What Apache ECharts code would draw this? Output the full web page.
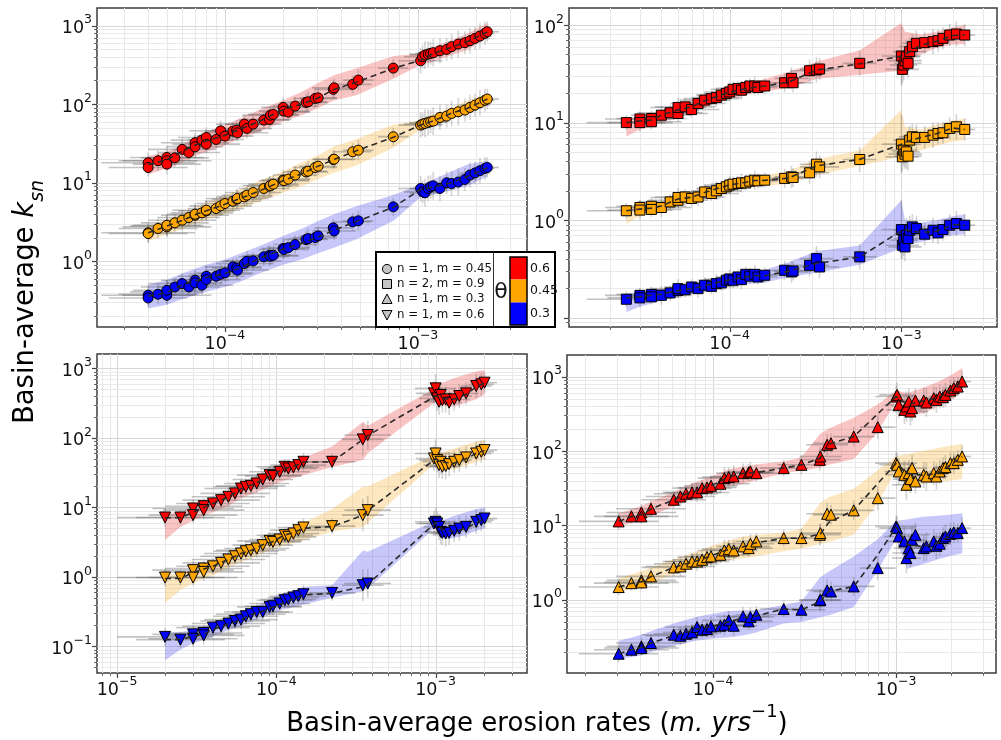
<!DOCTYPE html>
<html><head><meta charset="utf-8">
<script src="https://cdn.jsdelivr.net/npm/echarts@6/dist/echarts.min.js"></script>
<style>html,body{margin:0;padding:0;background:#fff}#c{width:1001px;height:740px}</style>
</head><body><div id="c"></div>
<script>
// ---------------- Panel 1 (circles: n = 1, m = 0.45) ----------------
const p1X = [4.0e-5,4.0e-5,4.5e-5,5.0e-5,5.0e-5,5.0e-5,5.5e-5,6.0e-5,6.5e-5,7.0e-5,7.0e-5,7.6e-5,8.0e-5,8.0e-5,9.0e-5,9.5e-5,1.0e-4,1.1e-4,1.15e-4,1.16e-4,1.26e-4,1.3e-4,1.4e-4,1.59e-4,1.7e-4,1.72e-4,1.78e-4,2.0e-4,2.02e-4,2.13e-4,2.31e-4,2.63e-4,2.7e-4,2.93e-4,3.04e-4,3.64e-4,3.68e-4,4.59e-4,4.91e-4,7.45e-4,1.032e-3,1.057e-3,1.087e-3,1.13e-3,1.163e-3,1.2e-3,1.3e-3,1.408e-3,1.494e-3,1.618e-3,1.752e-3,1.86e-3,1.974e-3,2.095e-3,2.224e-3,2.287e-3];
const p1Red = [17.9,15.6,19.0,20.9,19.0,17.2,20.7,26.5,24.2,32.2,28.6,34.8,37.6,30.9,35.5,45.7,39.1,45.3,46.6,43.1,55.6,49.0,55.6,62.5,63.8,72.4,73.9,90.7,81.4,79.1,94.3,105,107,118,120,154,161,178,202,287,356,401,421,433,442,451,478,497,538,581,604,641,686,735,795,834];
const p1Orange = [2.30,2.25,2.61,2.82,2.74,2.87,3.08,3.33,3.60,3.85,3.97,4.13,4.38,4.46,4.69,5.07,5.43,5.81,6.16,6.28,6.60,6.93,7.49,8.43,9.03,9.20,9.57,10.8,10.6,11.1,12.5,13.7,14.0,15.6,16.2,19.7,19.9,24.7,25.9,38.4,54.0,55.6,56.7,58.4,59.6,60.7,67.6,70.3,76.0,79.9,83.9,90.7,97.1,104,112,116];
const p1Blue = [0.369,0.341,0.380,0.407,0.369,0.427,0.471,0.519,0.471,0.573,0.530,0.495,0.644,0.584,0.644,0.683,0.710,0.847,0.822,0.768,0.934,1.00,1.01,1.14,1.19,1.16,1.19,1.45,1.41,1.49,1.63,1.89,1.94,2.00,2.10,2.66,2.43,3.17,3.27,4.92,8.43,7.64,7.42,8.43,8.85,9.11,8.43,9.95,9.76,10.2,11.0,12.5,13.3,14.2,15.2,15.6];
const p1XErr = [1.75,1.6,1.6,1.55,1.7,1.5,1.5,1.5,1.45,1.5,1.4,1.45,1.4,1.5,1.4,1.45,1.4,1.4,1.35,1.45,1.4,1.35,1.4,1.35,1.3,1.4,1.35,1.3,1.35,1.3,1.3,1.3,1.25,1.3,1.25,1.25,1.3,1.25,1.2,1.2,1.3,1.25,1.2,1.25,1.2,1.2,1.2,1.15,1.2,1.15,1.15,1.15,1.2,1.15,1.12,1.15];
const p1YErr = [1.35,1.3,1.35,1.4,1.3,1.35,1.3,1.35,1.3,1.35,1.4,1.3,1.35,1.3,1.3,1.35,1.3,1.3,1.35,1.3,1.3,1.35,1.3,1.3,1.35,1.3,1.3,1.35,1.3,1.3,1.3,1.3,1.35,1.3,1.3,1.3,1.3,1.3,1.35,1.3,1.45,1.4,1.5,1.45,1.4,1.5,1.45,1.4,1.45,1.5,1.4,1.45,1.4,1.45,1.4,1.35];
const p1BinX = [4.0e-5,5.0e-5,6.0e-5,7.0e-5,8.0e-5,1.0e-4,1.2e-4,1.5e-4,2.0e-4,2.5e-4,3.0e-4,3.7e-4,4.8e-4,7.5e-4,1.03e-3,1.2e-3,1.5e-3,1.8e-3,2.29e-3];
const p1RedLine = [17,19.5,25,30,34,40,48,60,85,100,118,155,190,287,360,440,530,620,830];
const p1RedLo = [12.8,15.1,17.9,21.8,24.7,30,36.5,44,60,72,88,112,130,212,314,346,421,488,687];
const p1RedHi = [21.8,24.7,30,38,44,54,66,84,112,144,183,234,285,408,442,537,653,794,1070];
const p1OrangeLine = [2.3,2.8,3.3,3.9,4.4,5.3,6.3,7.8,10.6,13,16,19.8,25.5,38,54,61,77,88,116];
const p1OrangeLo = [1.8,2.2,2.6,3.0,3.4,4.0,4.7,5.7,7.5,9,11,13.5,16.5,28,47,52,64,74,95];
const p1OrangeHi = [2.8,3.4,4.0,4.8,5.5,6.8,8.2,10.5,14,18,22,29,36,55,62,75,92,110,135];
const p1BlueLine = [0.36,0.40,0.50,0.56,0.62,0.70,0.82,1.08,1.42,1.7,2.0,2.5,3.2,4.9,8.2,8.8,10,12,15.5];
const p1BlueLo = [0.25,0.28,0.33,0.37,0.41,0.47,0.55,0.7,0.9,1.05,1.25,1.5,1.9,3.3,6.5,7.0,8.0,9,12];
const p1BlueHi = [0.5,0.58,0.7,0.8,0.9,1.05,1.25,1.55,2.1,2.6,3.2,4.0,5.0,7.0,9.5,11,14,17,19];
const p1XRange = [-4.663, -2.435];
const p1YRange = [-0.837, 3.223];
const p1XTicks = [1e-4, 1e-3];
const p1YTicks = [1, 10, 100, 1000];

// ---------------- Panel 2 (squares: n = 2, m = 0.9) ----------------
const p2X = [2.5e-5,3.0e-5,3.0e-5,3.5e-5,3.5e-5,4.0e-5,4.5e-5,5.0e-5,5.0e-5,5.5e-5,6.0e-5,6.54e-5,7.15e-5,7.82e-5,8.36e-5,8.94e-5,9.56e-5,1.0e-4,1.046e-4,1.118e-4,1.17e-4,1.24e-4,1.31e-4,1.40e-4,1.46e-4,1.60e-4,2.09e-4,2.29e-4,2.34e-4,2.92e-4,3.20e-4,3.34e-4,5.72e-4,1.0e-3,1.013e-3,1.032e-3,1.05e-3,1.069e-3,1.094e-3,1.118e-3,1.159e-3,1.223e-3,1.367e-3,1.529e-3,1.635e-3,1.748e-3,1.912e-3,2.091e-3,2.34e-3];
const p2Red = [10.0,10.9,10.0,11.0,10.2,11.9,12.6,12.4,14.3,14.5,13.6,15.7,17.0,17.6,18.1,19.1,19.9,20.6,21.9,22.4,21.5,22.9,23.7,23.7,22.9,23.7,25.6,28.4,25.6,34.0,34.6,35.4,40.5,48.1,35.1,38.9,43.1,47.3,40.5,53.3,60.0,64.9,65.9,67.5,69.1,73.0,78.9,80.8,78.9];
const p2Orange = [1.25,1.35,1.27,1.39,1.29,1.35,1.54,1.60,1.71,1.73,1.67,1.73,1.95,1.88,2.00,2.11,2.20,2.29,2.34,2.38,2.41,2.41,2.51,2.57,2.53,2.57,2.68,2.78,2.74,3.06,3.75,3.52,4.19,6.02,4.46,5.22,4.75,5.02,4.53,6.61,7.15,7.05,7.05,7.44,7.74,7.87,8.71,9.06,8.51];
const p2Blue = [0.155,0.170,0.160,0.174,0.164,0.170,0.180,0.191,0.199,0.194,0.207,0.199,0.216,0.210,0.224,0.228,0.243,0.250,0.243,0.262,0.246,0.279,0.267,0.279,0.262,0.273,0.307,0.295,0.302,0.345,0.404,0.332,0.421,0.802,0.554,0.624,0.533,0.702,0.649,0.790,0.854,0.821,0.719,0.790,0.741,0.802,0.889,0.924,0.889];
const p2XErr = [1.7,1.6,1.55,1.6,1.5,1.5,1.55,1.5,1.45,1.5,1.45,1.45,1.4,1.45,1.4,1.4,1.35,1.4,1.35,1.35,1.3,1.35,1.3,1.3,1.3,1.3,1.3,1.25,1.3,1.3,1.25,1.3,1.25,1.3,1.25,1.2,1.25,1.2,1.2,1.25,1.2,1.2,1.15,1.2,1.15,1.15,1.15,1.12,1.15];
const p2YErr = [1.2,1.2,1.25,1.2,1.2,1.25,1.2,1.2,1.25,1.2,1.2,1.25,1.2,1.2,1.25,1.2,1.2,1.25,1.2,1.2,1.25,1.2,1.2,1.25,1.2,1.2,1.25,1.3,1.25,1.3,1.35,1.3,1.35,2.0,1.4,1.45,1.4,1.5,1.4,1.4,1.35,1.35,1.3,1.35,1.3,1.3,1.3,1.35,1.3];
const p2BinX = [2.5e-5,3e-5,3.5e-5,4e-5,5e-5,6e-5,7e-5,8e-5,1e-4,1.2e-4,1.4e-4,1.6e-4,2.2e-4,3.2e-4,5.72e-4,1.0e-3,1.05e-3,1.3e-3,1.6e-3,2.0e-3,2.34e-3];
const p2RedLine = [10,10.4,10.6,11.9,13.5,14.5,16.5,18,20.5,22,23,23.7,26,34.5,40,48,50,62,68,78,79];
const p2RedLo = [7.2,8.5,9,10,11.5,12.5,14,15.5,17.5,19,20,21,22.5,28,31,34,40,50,58,63,64];
const p2RedHi = [11,11.5,12.2,13.5,15.5,17,19,20.5,23,25,26.5,28,33,42,55,105,85,80,85,95,100];
const p2OrangeLine = [1.25,1.3,1.33,1.4,1.65,1.72,1.9,2.05,2.3,2.42,2.55,2.56,2.7,3.6,4.2,6.0,6.3,7.05,7.7,8.8,8.5];
const p2OrangeLo = [0.92,1.1,1.15,1.2,1.4,1.5,1.65,1.8,2.0,2.1,2.2,2.25,2.35,2.9,3.6,4.5,4.6,5.2,5.8,6.4,6.6];
const p2OrangeHi = [1.38,1.45,1.5,1.55,1.8,1.95,2.1,2.25,2.5,2.65,2.75,2.85,3.2,4.2,5.2,13.5,9,8.5,9.5,10.5,11];
const p2BlueLine = [0.16,0.165,0.17,0.175,0.19,0.2,0.21,0.225,0.245,0.26,0.27,0.27,0.3,0.36,0.42,0.78,0.8,0.75,0.77,0.9,0.89];
const p2BlueLo = [0.115,0.13,0.14,0.15,0.165,0.175,0.185,0.195,0.21,0.22,0.225,0.23,0.26,0.29,0.35,0.52,0.55,0.6,0.65,0.7,0.72];
const p2BlueHi = [0.178,0.185,0.19,0.195,0.21,0.225,0.24,0.25,0.27,0.29,0.3,0.31,0.37,0.48,0.55,1.6,1.0,0.95,1.0,1.1,1.15];
const p2XRange = [-4.936, -2.443];
const p2YRange = [-1.094, 2.174];
const p2XTicks = [1e-4, 1e-3];
const p2YTicks = [1, 10, 100];

// ---------------- Panel 3 (down triangles: n = 1, m = 0.6) ----------------
const p3X = [2.0e-5,2.5e-5,3.0e-5,3.0e-5,3.5e-5,3.5e-5,4.0e-5,4.5e-5,5.0e-5,5.5e-5,6.0e-5,6.43e-5,6.92e-5,7.53e-5,8.22e-5,9.07e-5,9.52e-5,1.05e-4,1.13e-4,1.19e-4,1.28e-4,1.375e-4,1.48e-4,2.24e-4,3.49e-4,3.75e-4,9.76e-4,1.0e-3,1.025e-3,1.05e-3,1.076e-3,1.103e-3,1.158e-3,1.216e-3,1.309e-3,1.409e-3,1.554e-3,1.80e-3,1.937e-3,2.03e-3];
const p3Red = [7.15,7.15,9.64,7.73,10.4,9.12,11.4,12.7,14.2,15.9,18.7,19.8,20.4,22.1,25.2,29.1,28.2,32.5,38.4,36.3,37.6,40.6,45.3,45.3,95.1,110,437,516,370,331,413,350,358,321,358,400,437,557,589,623];
const p3Orange = [0.978,0.978,1.25,0.978,1.32,1.18,1.42,1.59,1.78,1.98,2.17,2.34,2.42,2.56,2.86,3.30,3.19,3.45,3.98,3.77,4.21,4.70,5.13,5.37,7.73,9.12,50.6,59.7,47.9,40.6,45.3,38.4,39.3,41.9,45.3,47.9,52.3,59.7,63.1,66.7];
const p3Blue = [0.137,0.125,0.149,0.129,0.156,0.144,0.186,0.195,0.213,0.232,0.243,0.271,0.290,0.313,0.313,0.370,0.378,0.413,0.461,0.472,0.504,0.527,0.563,0.588,0.759,0.802,5.86,6.20,5.86,5.25,4.45,4.30,4.21,4.30,4.60,4.97,5.25,6.20,6.55,6.92];
const p3XErr = [2.0,1.9,1.8,1.9,1.75,1.8,1.7,1.75,1.7,1.65,1.7,1.6,1.65,1.6,1.55,1.6,1.5,1.55,1.5,1.5,1.45,1.5,1.45,1.4,1.35,1.4,1.3,1.35,1.3,1.25,1.3,1.25,1.25,1.2,1.25,1.2,1.2,1.25,1.2,1.2];
const p3YErr = [1.35,1.3,1.35,1.3,1.3,1.35,1.3,1.3,1.35,1.3,1.35,1.3,1.3,1.35,1.3,1.3,1.35,1.3,1.3,1.35,1.3,1.3,1.35,1.3,1.7,1.6,1.5,1.6,1.5,1.55,1.5,1.5,1.55,1.5,1.45,1.5,1.45,1.5,1.45,1.4];
const p3BinX = [2e-5,2.5e-5,3e-5,3.5e-5,4e-5,5e-5,6e-5,7e-5,8.2e-5,9.5e-5,1.1e-4,1.3e-4,1.48e-4,2.24e-4,3.5e-4,3.75e-4,1.0e-3,1.1e-3,1.3e-3,1.55e-3,1.8e-3,2.03e-3];
const p3RedLine = [7.1,7.1,8.5,10,11.4,14,18.5,21,25,29,36,39,45,45,95,108,400,370,360,420,540,620];
const p3RedLo = [3.4,5.2,6.5,7.5,8.5,10.5,13.5,15.5,18,21,24,27,29,38,48,60,330,290,280,320,360,420];
const p3RedHi = [8.2,8.5,10.5,12,14,17,22,26,31,36,42,47,52,75,170,150,520,620,720,820,900,950];
const p3OrangeLine = [0.95,0.95,1.15,1.3,1.42,1.78,2.17,2.42,2.9,3.2,3.9,4.4,5.0,5.3,7.7,9.0,50,45,43,50,60,66];
const p3OrangeLo = [0.42,0.65,0.8,0.95,1.05,1.35,1.65,1.85,2.2,2.5,2.8,3.1,3.4,4.5,5.2,6,44,35,35,40,45,50];
const p3OrangeHi = [1.1,1.1,1.3,1.45,1.6,1.95,2.4,2.75,3.3,3.8,4.5,5.2,6.0,9.5,20,20,58,62,70,80,88,93];
const p3BlueLine = [0.125,0.125,0.14,0.15,0.175,0.21,0.24,0.29,0.32,0.37,0.42,0.49,0.55,0.58,0.72,0.78,6.0,4.8,4.5,5.0,6.0,6.9];
const p3BlueLo = [0.063,0.09,0.11,0.125,0.14,0.17,0.195,0.23,0.26,0.3,0.34,0.37,0.4,0.5,0.62,0.68,5.2,3.5,3.6,4,4.6,5];
const p3BlueHi = [0.155,0.16,0.175,0.19,0.22,0.26,0.31,0.36,0.42,0.5,0.58,0.65,0.72,0.76,2.4,2.3,6.5,6.5,7.5,8.5,9.5,10];
const p3XRange = [-5.126, -2.426];
const p3YRange = [-1.383, 3.207];
const p3XTicks = [1e-5, 1e-4, 1e-3];
const p3YTicks = [0.1, 1, 10, 100, 1000];

// ---------------- Panel 4 (up triangles: n = 1, m = 0.3) ----------------
const p4X = [3.05e-5,3.58e-5,4.06e-5,4.06e-5,4.58e-5,6.10e-5,6.63e-5,7.12e-5,7.68e-5,8.18e-5,8.71e-5,9.27e-5,9.75e-5,1.097e-4,1.153e-4,1.218e-4,1.297e-4,1.458e-4,1.566e-4,1.60e-4,1.725e-4,2.433e-4,3.04e-4,3.83e-4,3.86e-4,4.20e-4,4.41e-4,5.87e-4,7.94e-4,1.0e-3,1.013e-3,1.034e-3,1.11e-3,1.139e-3,1.173e-3,1.198e-3,1.223e-3,1.275e-3,1.416e-3,1.465e-3,1.606e-3,1.661e-3,1.732e-3,1.806e-3,1.86e-3,1.981e-3,2.066e-3,2.173e-3,2.295e-3];
const p4Red = [11.3,13.2,14.9,13.2,16.7,22.1,24.4,26.6,27.7,27.7,31.6,32.3,34.0,36.2,43.1,44.5,45.4,50.3,51.4,53.0,50.3,58.7,65.1,76.0,84.3,121,127,156,209,539,568,417,357,396,462,339,376,476,476,448,512,486,539,528,568,649,698,735,858];
const p4Orange = [1.48,1.67,1.82,1.71,2.06,2.72,2.80,3.05,3.27,3.27,3.45,3.74,3.82,4.02,4.60,4.79,4.60,5.21,4.94,5.65,6.08,6.74,6.74,7.47,7.86,14.3,13.9,15.9,23.2,68.6,65.1,53.0,47.8,35.1,50.3,41.8,58.7,38.9,47.8,45.4,50.3,45.4,53.0,58.7,60.6,68.6,68.6,76.0,84.3];
const p4Blue = [0.188,0.213,0.236,0.224,0.262,0.339,0.328,0.349,0.364,0.429,0.395,0.404,0.438,0.447,0.461,0.528,0.447,0.597,0.512,0.585,0.629,0.749,0.734,0.98,1.0,1.335,1.29,1.51,2.66,9.66,9.18,7.09,6.08,3.63,4.94,4.24,6.40,7.47,4.94,5.21,6.08,5.31,5.65,6.74,7.09,7.70,8.03,7.86,9.18];
const p4XErr = [1.65,1.6,1.55,1.6,1.55,1.5,1.55,1.5,1.45,1.5,1.45,1.45,1.4,1.45,1.4,1.4,1.35,1.4,1.35,1.35,1.3,1.35,1.35,1.3,1.3,1.3,1.25,1.3,1.25,1.3,1.25,1.2,1.25,1.2,1.2,1.25,1.2,1.2,1.15,1.2,1.15,1.15,1.15,1.12,1.15,1.12,1.12,1.1,1.12];
const p4YErr = [1.3,1.25,1.3,1.25,1.3,1.3,1.35,1.3,1.3,1.35,1.3,1.3,1.35,1.3,1.4,1.35,1.4,1.35,1.3,1.35,1.3,1.3,1.35,1.4,1.35,1.4,1.35,1.35,1.45,1.4,1.45,1.5,1.55,1.6,1.5,1.55,1.5,1.45,1.5,1.55,1.45,1.5,1.45,1.4,1.45,1.4,1.4,1.35,1.4];
const p4BinX = [3.05e-5,3.6e-5,4.1e-5,4.6e-5,6.1e-5,7e-5,8e-5,9e-5,1.0e-4,1.2e-4,1.45e-4,1.7e-4,2.43e-4,3.04e-4,3.85e-4,4.3e-4,5.87e-4,7.94e-4,1.0e-3,1.15e-3,1.4e-3,1.7e-3,2.0e-3,2.3e-3];
const p4RedLine = [11.3,13.2,14,16.7,22,26,29,32,35,44,50,51,59,65,80,124,156,315,540,420,470,520,650,860];
const p4RedLo = [9.5,10.8,12,13.5,18,21,24,27,29,33,36,40,50,54,60,65,78,180,470,300,320,400,480,620];
const p4RedHi = [14.5,16.5,18.5,21,28,33,38,42,46,56,62,66,72,82,170,200,280,420,650,600,700,850,1050,1300];
const p4OrangeLine = [1.48,1.67,1.75,2.06,2.72,3.0,3.3,3.6,4.0,4.7,5.1,5.8,6.7,6.7,7.6,11,15.9,36.5,68,50,47,50,66,84];
const p4OrangeLo = [1.25,1.4,1.55,1.7,2.2,2.45,2.7,2.95,3.1,3.4,3.6,3.8,4.5,4.9,5.6,6,7.5,20,55,34,36,38,40,42];
const p4OrangeHi = [1.95,2.2,2.45,2.7,3.5,3.9,4.4,4.9,5.4,6.2,7.0,7.4,8.0,9.0,20,24,31,55,85,90,100,110,118,125];
const p4BlueLine = [0.188,0.213,0.23,0.262,0.33,0.36,0.4,0.42,0.44,0.5,0.57,0.6,0.75,0.73,0.95,1.3,1.5,4.0,9.5,5.5,5.2,5.8,7.5,9.2];
const p4BlueLo = [0.16,0.17,0.18,0.2,0.24,0.26,0.28,0.29,0.3,0.31,0.33,0.36,0.48,0.5,0.58,0.62,0.8,2.5,6.5,2.6,3.0,3.5,3.9,4.2];
const p4BlueHi = [0.28,0.31,0.34,0.38,0.48,0.53,0.58,0.62,0.65,0.7,0.72,0.72,0.85,0.95,2.0,2.4,3.8,6.5,11.5,12,13,13.5,14,14.5];
const p4XRange = [-4.798, -2.454];
const p4YRange = [-0.985, 3.29];
const p4XTicks = [1e-4, 1e-3];
const p4YTicks = [1, 10, 100, 1000];

// ---------------- Texts ----------------
const legendLabels = ['n = 1, m = 0.45', 'n = 2, m = 0.9', 'n = 1, m = 0.3', 'n = 1, m = 0.6'];
const thetaSymbol = 'θ';
const thetaLabels = ['0.6', '0.45', '0.3'];
const yTitleMain = 'Basin-average ';
const yTitleVar = 'k';
const yTitleSub = 'sn';
const xTitleMain = 'Basin-average erosion rates (';
const xTitleUnit = 'm. yrs';
const xTitleExp = '\u22121';
const xTitleEnd = ')';

// ---------------- Styling ----------------
const FONT = 'DejaVu Sans';
const markerColors = ['#ff0000', '#ffa500', '#0000ff'];
const bandColors = ['rgba(235,70,70,0.32)', 'rgba(245,180,60,0.32)', 'rgba(70,70,235,0.3)'];

const panels = [
  {x: p1X, ys: [p1Red, p1Orange, p1Blue], xErr: p1XErr, yErr: p1YErr, binX: p1BinX,
   lines: [p1RedLine, p1OrangeLine, p1BlueLine], lo: [p1RedLo, p1OrangeLo, p1BlueLo], hi: [p1RedHi, p1OrangeHi, p1BlueHi],
   xRange: p1XRange, yRange: p1YRange, xTicks: p1XTicks, yTicks: p1YTicks,
   symbol: 'circle', rot: 0, size: 10, grid: {left: 97, top: 8, width: 430, height: 319}},
  {x: p2X, ys: [p2Red, p2Orange, p2Blue], xErr: p2XErr, yErr: p2YErr, binX: p2BinX,
   lines: [p2RedLine, p2OrangeLine, p2BlueLine], lo: [p2RedLo, p2OrangeLo, p2BlueLo], hi: [p2RedHi, p2OrangeHi, p2BlueHi],
   xRange: p2XRange, yRange: p2YRange, xTicks: p2XTicks, yTicks: p2YTicks,
   symbol: 'rect', rot: 0, size: 10, grid: {left: 569, top: 8, width: 428, height: 319}},
  {x: p3X, ys: [p3Red, p3Orange, p3Blue], xErr: p3XErr, yErr: p3YErr, binX: p3BinX,
   lines: [p3RedLine, p3OrangeLine, p3BlueLine], lo: [p3RedLo, p3OrangeLo, p3BlueLo], hi: [p3RedHi, p3OrangeHi, p3BlueHi],
   xRange: p3XRange, yRange: p3YRange, xTicks: p3XTicks, yTicks: p3YTicks,
   symbol: 'triangle', rot: 180, size: 11, grid: {left: 97, top: 354, width: 430, height: 319}},
  {x: p4X, ys: [p4Red, p4Orange, p4Blue], xErr: p4XErr, yErr: p4YErr, binX: p4BinX,
   lines: [p4RedLine, p4OrangeLine, p4BlueLine], lo: [p4RedLo, p4OrangeLo, p4BlueLo], hi: [p4RedHi, p4OrangeHi, p4BlueHi],
   xRange: p4XRange, yRange: p4YRange, xTicks: p4XTicks, yTicks: p4YTicks,
   symbol: 'triangle', rot: 0, size: 11, grid: {left: 567, top: 355, width: 429, height: 318}}
];

function powLabel(v) {
  const e = Math.round(Math.log10(v));
  return '{b|10}{s|' + (e < 0 ? '\u2212' + (-e) : String(e)) + '}';
}
const labelRich = {
  b: {fontSize: 17.5, fontFamily: FONT, color: '#111', lineHeight: 24, verticalAlign: 'bottom'},
  s: {fontSize: 12.5, fontFamily: FONT, color: '#111', lineHeight: 12, verticalAlign: 'top'}
};

function logStops(r) {
  const out = [];
  for (let e = Math.floor(r[0]); e <= Math.ceil(r[1]); e++) {
    for (let m = 1; m <= 9; m++) {
      const lv = e + Math.log10(m);
      if (lv > r[0] + 1e-4 && lv < r[1] - 1e-4) out.push({v: m * Math.pow(10, e), major: m === 1});
    }
  }
  return out;
}

function gridRender(p) {
  return function (params, api) {
    if (params.dataIndex !== 0) return;
    const cs = params.coordSys;
    const ch = [];
    const x0 = Math.pow(10, p.xRange[0]), y0 = Math.pow(10, p.yRange[0]);
    const bottom = cs.y + cs.height, left = cs.x;
    logStops(p.xRange).forEach(t => {
      const px = Math.round(api.coord([t.v, y0])[0]) + 0.5;
      ch.push({type: 'line', shape: {x1: px, y1: cs.y, x2: px, y2: bottom},
        style: {stroke: t.major ? '#d6d6d6' : '#e9e9e9', lineWidth: 1}});
      ch.push({type: 'line', shape: {x1: px, y1: bottom, x2: px, y2: bottom + (t.major ? 5 : 3)},
        style: {stroke: '#444', lineWidth: t.major ? 1.2 : 0.8}});
    });
    logStops(p.yRange).forEach(t => {
      const py = Math.round(api.coord([x0, t.v])[1]) + 0.5;
      ch.push({type: 'line', shape: {x1: left, y1: py, x2: left + cs.width, y2: py},
        style: {stroke: t.major ? '#d6d6d6' : '#e9e9e9', lineWidth: 1}});
      ch.push({type: 'line', shape: {x1: left - (t.major ? 5 : 3), y1: py, x2: left, y2: py},
        style: {stroke: '#444', lineWidth: t.major ? 1.2 : 0.8}});
    });
    return {type: 'group', children: ch};
  };
}

function bandRender(p, c) {
  return function (params, api) {
    if (params.dataIndex !== 0) return;
    const pts = [];
    for (let i = 0; i < p.binX.length; i++) pts.push(api.coord([p.binX[i], p.hi[c][i]]));
    for (let i = p.binX.length - 1; i >= 0; i--) pts.push(api.coord([p.binX[i], p.lo[c][i]]));
    return {type: 'polygon', shape: {points: pts}, style: {fill: bandColors[c]}};
  };
}

function errRender(p) {
  return function (params, api) {
    const i = params.dataIndex;
    const x = api.value(0), y = api.value(1);
    const fx = p.xErr[i] || 1.3, fy = p.yErr[i] || 1.3;
    const a = api.coord([x / fx, y]), b = api.coord([x * fx, y]);
    const c1 = api.coord([x, y / fy]), d = api.coord([x, y * fy]);
    return {type: 'group', children: [
      {type: 'line', shape: {x1: a[0], y1: a[1], x2: b[0], y2: b[1]}, style: {stroke: 'rgba(90,90,90,0.36)', lineWidth: 1.6}},
      {type: 'line', shape: {x1: c1[0], y1: c1[1], x2: d[0], y2: d[1]}, style: {stroke: 'rgba(90,90,90,0.26)', lineWidth: 1.6}}
    ]};
  };
}

const grids = [], xAxes = [], yAxes = [], series = [];
panels.forEach((p, k) => {
  grids.push(Object.assign({show: true, borderColor: '#3c3c3c', borderWidth: 1.5, backgroundColor: '#fff'}, p.grid));
  xAxes.push({type: 'log', logBase: 10, gridIndex: k,
    min: Math.pow(10, p.xRange[0]), max: Math.pow(10, p.xRange[1]),
    axisLine: {show: false}, axisTick: {show: false}, splitLine: {show: false}, minorSplitLine: {show: false},
    axisLabel: {customValues: p.xTicks, formatter: powLabel, rich: labelRich, margin: 2, color: '#111', fontFamily: FONT}});
  yAxes.push({type: 'log', logBase: 10, gridIndex: k,
    min: Math.pow(10, p.yRange[0]), max: Math.pow(10, p.yRange[1]),
    axisLine: {show: false}, axisTick: {show: false}, splitLine: {show: false}, minorSplitLine: {show: false},
    axisLabel: {customValues: p.yTicks, formatter: powLabel, rich: labelRich, margin: 5, color: '#111', fontFamily: FONT}});
  series.push({type: 'custom', xAxisIndex: k, yAxisIndex: k, silent: true, z: 1, clip: false,
    data: [[Math.pow(10, p.xRange[0]), Math.pow(10, p.yRange[0])]], renderItem: gridRender(p)});
  for (let c = 0; c < 3; c++) {
    series.push({type: 'custom', xAxisIndex: k, yAxisIndex: k, silent: true, z: 2, clip: true,
      data: [[p.binX[0], p.lo[c][0]]], renderItem: bandRender(p, c)});
  }
  for (let c = 0; c < 3; c++) {
    series.push({type: 'custom', xAxisIndex: k, yAxisIndex: k, silent: true, z: 3, clip: true,
      data: p.x.map((x, i) => [x, p.ys[c][i]]), renderItem: errRender(p)});
  }
  for (let c = 0; c < 3; c++) {
    series.push({type: 'scatter', xAxisIndex: k, yAxisIndex: k, z: 4, silent: true,
      symbol: p.symbol, symbolRotate: p.rot, symbolSize: p.size,
      itemStyle: {color: markerColors[c], borderColor: '#000', borderWidth: 1, opacity: 1},
      data: p.x.map((x, i) => [x, p.ys[c][i]])});
    series.push({type: 'line', xAxisIndex: k, yAxisIndex: k, z: 5, silent: true,
      showSymbol: false, symbol: 'none',
      lineStyle: {color: '#2a2a2a', width: 1.6, type: [6, 4]},
      data: p.binX.map((x, i) => [x, p.lines[c][i]])});
  }
});

// Legend (custom two-part box) as graphic elements
const legendRowsY = [269, 284, 299, 315];
const legendGraphic = [
  {type: 'rect', shape: {x: 376, y: 252, width: 179, height: 75}, style: {fill: '#fff', stroke: '#000', lineWidth: 2}, z: 100},
  {type: 'line', shape: {x1: 493.5, y1: 252, x2: 493.5, y2: 327}, style: {stroke: '#333', lineWidth: 1}, z: 101},
  {type: 'circle', shape: {cx: 387, cy: legendRowsY[0], r: 4.6}, style: {fill: '#c4c4c4', stroke: '#000', lineWidth: 1}, z: 101},
  {type: 'rect', shape: {x: 382.5, y: legendRowsY[1] - 4.5, width: 9, height: 9}, style: {fill: '#c4c4c4', stroke: '#000', lineWidth: 1}, z: 101},
  {type: 'polygon', shape: {points: [[387, legendRowsY[2] - 5], [382, legendRowsY[2] + 4.5], [392, legendRowsY[2] + 4.5]]}, style: {fill: '#c4c4c4', stroke: '#000', lineWidth: 1}, z: 101},
  {type: 'polygon', shape: {points: [[382, legendRowsY[3] - 4.5], [392, legendRowsY[3] - 4.5], [387, legendRowsY[3] + 5]]}, style: {fill: '#c4c4c4', stroke: '#000', lineWidth: 1}, z: 101}
];
legendLabels.forEach((t, i) => legendGraphic.push({type: 'text', x: 397, y: legendRowsY[i], z: 101,
  style: {text: t, fontSize: 11.8, fontFamily: FONT, fill: '#111', textAlign: 'left', textVerticalAlign: 'middle'}}));
legendGraphic.push({type: 'text', x: 501, y: 292, z: 101,
  style: {text: thetaSymbol, fontSize: 22, fontFamily: FONT, fill: '#111', textAlign: 'center', textVerticalAlign: 'middle'}});
const cbY = [257, 279.5, 302.5, 325];
for (let i = 0; i < 3; i++) {
  legendGraphic.push({type: 'rect', z: 101, shape: {x: 510, y: cbY[i], width: 17, height: cbY[i + 1] - cbY[i]}, style: {fill: markerColors[i]}});
  legendGraphic.push({type: 'text', x: 530, y: (cbY[i] + cbY[i + 1]) / 2, z: 102,
    style: {text: thetaLabels[i], fontSize: 12.5, fontFamily: FONT, fill: '#111', textAlign: 'left', textVerticalAlign: 'middle'}});
}
legendGraphic.push({type: 'rect', z: 102, shape: {x: 510, y: 257, width: 17, height: 68}, style: {fill: 'none', stroke: '#000', lineWidth: 1.5}});

const titles = [
  {type: 'text', x: 30, y: 302, rotation: Math.PI / 2, z: 100,
   style: {text: '{n|' + yTitleMain + '}{i|' + yTitleVar + '}{sub|' + yTitleSub + '}',
     textAlign: 'center', textVerticalAlign: 'middle',
     rich: {n: {fontSize: 27.5, fontFamily: FONT, color: '#111', lineHeight: 36, verticalAlign: 'top'},
            i: {fontSize: 27.5, fontFamily: FONT, fontStyle: 'italic', color: '#111', lineHeight: 36, verticalAlign: 'top'},
            sub: {fontSize: 19, fontFamily: FONT, fontStyle: 'italic', color: '#111', lineHeight: 22, verticalAlign: 'bottom'}}}},
  {type: 'text', x: 537, y: 720, z: 100,
   style: {text: '{n|' + xTitleMain + '}{i|' + xTitleUnit + '}{s|' + xTitleExp + '}{n|' + xTitleEnd + '}',
     textAlign: 'center', textVerticalAlign: 'middle',
     rich: {n: {fontSize: 26, fontFamily: FONT, color: '#111', lineHeight: 34, verticalAlign: 'bottom'},
            i: {fontSize: 26, fontFamily: FONT, fontStyle: 'italic', color: '#111', lineHeight: 34, verticalAlign: 'bottom'},
            s: {fontSize: 18, fontFamily: FONT, color: '#111', lineHeight: 16, verticalAlign: 'top'}}}}
];

const chart = echarts.init(document.getElementById('c'), null, {renderer: 'canvas'});
chart.setOption({
  animation: false,
  backgroundColor: '#fff',
  grid: grids,
  xAxis: xAxes,
  yAxis: yAxes,
  series: series,
  graphic: legendGraphic.concat(titles)
});
</script>
</body></html>
